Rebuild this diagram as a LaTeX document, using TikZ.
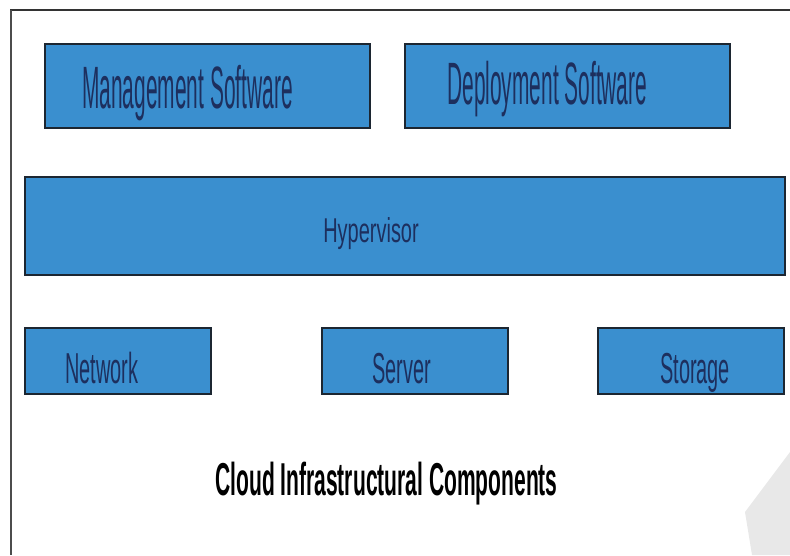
\documentclass[tikz,border=0pt]{standalone}
\usepackage{fontspec}
\setmainfont{Liberation Sans}
\definecolor{boxblue}{HTML}{3A8FCF}
\definecolor{boxedge}{HTML}{1C2631}
\definecolor{labelnavy}{HTML}{1D2F5E}
\newcommand{\narrow}[2]{\scalebox{#1}[1]{#2}}
\tikzset{box/.style={draw=boxedge,line width=1.5pt,fill=boxblue},
	lbl/.style={anchor=base west,inner sep=0pt,text=labelnavy}}

\begin{document}
\begin{tikzpicture}[x=0.025cm,y=-0.025cm]
		\useasboundingbox (0,0) rectangle (790,555);
		% frame and watermark corner
		\fill[gray!18] (790,452) -- (745,512) -- (752,555) -- (790,555) -- cycle;
		\draw[black!80,line width=2pt] (10,10) -- (790,10);
		\draw[black!70,line width=0.8pt] (11,10) -- (11,555);
		
		% software layer
		\draw[box] (45,44) rectangle (370,128);
		\draw[box] (405,44) rectangle (730,128);
		\node[lbl,font=\fontsize{42.5}{43}\selectfont] (mgmt) at (82,108) {\narrow{0.35}{Management Software}};
		\node[lbl,font=\fontsize{42.5}{43}\selectfont] (deploy) at (447,104) {\narrow{0.35}{Deployment Software}};
		
		% hypervisor
		\draw[box] (25,177) rectangle (785,275);
		\node[lbl,font=\fontsize{24.5}{25}\selectfont] (hyper) at (323,242) {\narrow{0.58}{Hypervisor}};
		
		% hardware layer
		\foreach \x/\tx/\name/\txt in {25/65/net/Network,322/372/srv/Server,598/660/sto/Storage}
		{\draw[box] (\x,328) rectangle (\x+186,394);
			\node[lbl,font=\fontsize{30.8}{31}\selectfont] (\name) at (\tx,383) {\narrow{0.46}{\txt}};
		}
		
		\node[anchor=base west,inner sep=0pt,font=\bfseries\fontsize{32.8}{33}\selectfont] (title) at (215,495) {\narrow{0.456}{Cloud Infrastructural Components}};
\end{tikzpicture}
\end{document}
